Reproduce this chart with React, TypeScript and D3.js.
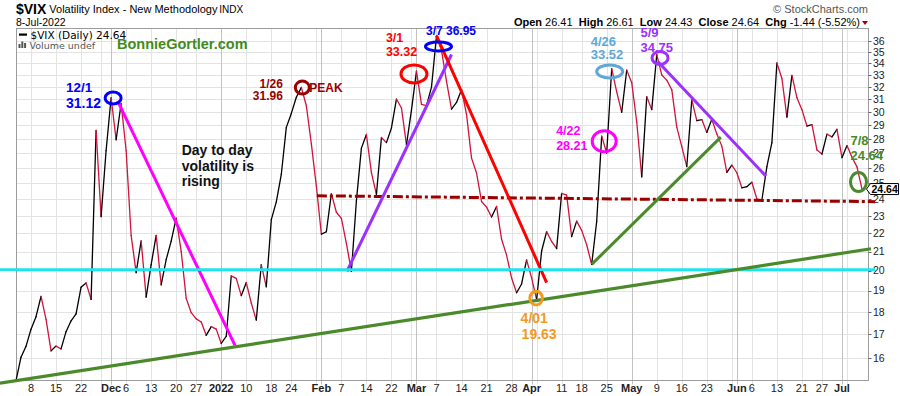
import React, { useRef, useEffect } from 'react';
import * as d3 from 'd3';

const WIDTH = 900;
const HEIGHT = 396;
const SANS = 'Liberation Sans, Arial, Helvetica, sans-serif';
const VERDANA = 'DejaVu Sans, Verdana, sans-serif';

// $VIX daily closes, [day of month, close]
const nov2021 = [[3, 15.10], [4, 16.03], [5, 16.48], [8, 17.22], [9, 17.78], [10, 18.73], [11, 17.66], [12, 16.29], [15, 16.49], [16, 16.37], [17, 17.11], [18, 17.59], [19, 17.91], [22, 19.17], [23, 19.38], [24, 18.58], [26, 28.62], [29, 22.96], [30, 27.19]];
const dec2021 = [[1, 31.12], [2, 27.95], [3, 30.67], [6, 27.18], [7, 21.89], [8, 19.90], [9, 21.58], [10, 18.69], [13, 20.31], [14, 21.89], [15, 19.29], [16, 20.57], [17, 21.57], [20, 22.87], [21, 21.01], [22, 18.63], [23, 17.96], [27, 17.68], [28, 17.54], [29, 16.95], [30, 17.33], [31, 17.22]];
const jan2022 = [[3, 16.60], [4, 16.91], [5, 19.73], [6, 19.61], [7, 18.76], [10, 19.40], [11, 18.41], [12, 17.62], [13, 20.31], [14, 19.19], [18, 22.79], [19, 23.85], [20, 25.59], [21, 28.85], [24, 29.90], [25, 31.16], [26, 31.96], [27, 30.49], [28, 27.66], [31, 24.83]];
const feb2022 = [[1, 21.96], [2, 22.09], [3, 24.35], [4, 23.22], [7, 22.86], [8, 21.44], [9, 19.96], [10, 23.91], [11, 27.36], [14, 28.33], [15, 25.70], [16, 24.29], [17, 28.11], [18, 27.75], [22, 28.81], [23, 31.02], [24, 30.32], [25, 27.59], [28, 30.15]];
const mar2022 = [[1, 33.32], [2, 30.6], [3, 30.5], [4, 31.98], [7, 36.45], [8, 35.13], [9, 32.45], [10, 30.23], [11, 30.75], [14, 31.77], [15, 29.83], [16, 26.67], [17, 25.67], [18, 23.87], [21, 23.53], [22, 22.94], [23, 23.57], [24, 21.67], [25, 20.81], [28, 19.63], [29, 18.90], [30, 19.33], [31, 20.56]];
const apr2022 = [[1, 19.63], [4, 18.57], [5, 21.03], [6, 22.10], [7, 21.55], [8, 21.16], [11, 24.37], [12, 24.26], [13, 21.82], [14, 22.70], [18, 22.17], [19, 21.37], [20, 20.32], [21, 22.68], [22, 28.21], [25, 27.02], [26, 33.52], [27, 31.60], [28, 29.99], [29, 33.40]];
const may2022 = [[2, 32.34], [3, 29.25], [4, 25.42], [5, 31.20], [6, 30.19], [9, 34.75], [10, 32.99], [11, 32.56], [12, 31.77], [13, 28.87], [16, 27.47], [17, 26.10], [18, 30.96], [19, 29.35], [20, 29.43], [23, 28.48], [24, 29.45], [25, 28.37], [26, 27.50], [27, 25.72], [31, 26.19]];
const jun2022 = [[1, 25.69], [2, 24.72], [3, 24.79], [6, 25.07], [7, 24.02], [8, 23.96], [9, 26.09], [10, 27.75], [13, 34.02], [14, 32.69], [15, 29.62], [16, 32.95], [17, 31.13], [21, 30.19], [22, 28.95], [23, 29.05], [24, 27.23], [27, 26.95], [28, 28.36], [29, 28.16], [30, 28.71]];
const jul2022 = [[1, 26.70], [5, 27.54], [6, 26.73], [7, 26.08], [8, 24.64]];

const months: [string, number[][]][] = [
  ['2021-11', nov2021], ['2021-12', dec2021], ['2022-01', jan2022], ['2022-02', feb2022],
  ['2022-03', mar2022], ['2022-04', apr2022], ['2022-05', may2022], ['2022-06', jun2022], ['2022-07', jul2022],
];

const series = months.flatMap(([ym, rows]) =>
  rows.map(([d, c]) => ({ date: `${ym}-${String(d).padStart(2, '0')}`, close: c })));

const yTicks = [16, 17, 18, 19, 20, 21, 22, 23, 24, 25, 26, 27, 28, 29, 30, 31, 32, 33, 34, 35, 36];

// weekly + month gridlines; empty label = gridline only
const xTicks = [
  ['2021-11-08', '8'], ['2021-11-15', '15'], ['2021-11-22', '22'], ['2021-11-29', ''], ['2021-12-01', 'Dec', 'm'],
  ['2021-12-06', '6'], ['2021-12-13', '13'], ['2021-12-20', '20'], ['2021-12-27', '27'], ['2022-01-03', '2022', 'm'],
  ['2022-01-10', '10'], ['2022-01-18', '18'], ['2022-01-24', '24'], ['2022-01-31', ''], ['2022-02-01', 'Feb', 'm'],
  ['2022-02-07', '7'], ['2022-02-14', '14'], ['2022-02-22', '22'], ['2022-02-28', ''], ['2022-03-01', 'Mar', 'm'],
  ['2022-03-07', '7'], ['2022-03-14', '14'], ['2022-03-21', '21'], ['2022-03-28', '28'], ['2022-04-01', 'Apr', 'm'],
  ['2022-04-04', ''], ['2022-04-11', '11'], ['2022-04-18', '18'], ['2022-04-25', '25'], ['2022-05-02', 'May', 'm'],
  ['2022-05-09', '9'], ['2022-05-16', '16'], ['2022-05-23', '23'], ['2022-05-31', ''], ['2022-06-01', 'Jun', 'm'],
  ['2022-06-06', '6'], ['2022-06-13', '13'], ['2022-06-21', '21'], ['2022-06-27', '27'], ['2022-07-01', 'Jul', 'm'],
  ['2022-07-05', ''],
];

// annotation anchors: [date, trading-day offset, value]
type Anchor = [string, number, number];

const trendLines: { from: Anchor; to: Anchor; color: string; width: number; dash?: string }[] = [
  { from: ['2022-01-31', 0.1, 24.22], to: ['2022-07-08', 2.6, 23.86], color: '#990000', width: 3, dash: '10,3,3,3' },
  { from: ['2021-12-02', 0.3, 30.88], to: ['2022-01-05', 0.75, 16.52], color: '#ff00ff', width: 3 },
  { from: ['2022-02-08', 0.1, 19.96], to: ['2022-03-10', 0, 34.76], color: '#9b30ff', width: 3 },
  { from: ['2022-03-07', 0, 36.49], to: ['2022-04-06', 0, 19.4], color: '#ff0000', width: 3 },
  { from: ['2022-04-20', 0, 20.32], to: ['2022-05-26', -0.2, 28.14], color: '#4a8a2a', width: 3 },
  { from: ['2022-05-09', 0.2, 34.14], to: ['2022-06-09', -0.2, 25.47], color: '#9b30ff', width: 3 },
  { from: ['2021-11-03', -3.2, 20.05], to: ['2022-07-08', 2.6, 20.05], color: '#1fe3ef', width: 2.8 },
  { from: ['2021-11-03', -3.2, 15.0], to: ['2022-07-08', 1.8, 21.15], color: '#4a8a2a', width: 3.2 },
];

const circles: { at: Anchor; rx: number; ry: number; color: string }[] = [
  { at: ['2021-12-01', 0.4, 31.1], rx: 8, ry: 6, color: '#0000ff' },
  { at: ['2022-01-26', 0.2, 31.94], rx: 7, ry: 6.5, color: '#990000' },
  { at: ['2022-03-01', -0.5, 33.08], rx: 13, ry: 9, color: '#ff0000' },
  { at: ['2022-03-07', 0.4, 35.49], rx: 13, ry: 4.5, color: '#0000ff' },
  { at: ['2022-04-22', 0.5, 27.84], rx: 12, ry: 10.5, color: '#ff00ff' },
  { at: ['2022-04-26', -0.4, 33.28], rx: 13, ry: 6.5, color: '#5fa8d6' },
  { at: ['2022-05-09', 0.65, 34.46], rx: 8, ry: 6.5, color: '#9b30ff' },
  { at: ['2022-04-04', -0.1, 18.64], rx: 6.3, ry: 6.8, color: '#f39a1e' },
  { at: ['2022-07-08', -0.7, 25.09], rx: 8, ry: 9.5, color: '#4a8a2a' },
];

const notes: { at: Anchor; lines: string[]; color: string; size: number; anchor?: string; lead?: number }[] = [
  { at: ['2021-11-17', 0, 31.57], lines: ['12/1'], color: '#0000ff', size: 13.5 },
  { at: ['2021-11-17', 0, 30.3], lines: ['31.12'], color: '#0000ff', size: 14 },
  { at: ['2021-12-21', 0.1, 26.86], lines: ['Day to day', 'volatility is', 'rising'], color: '#111', size: 14, lead: 15.5 },
  { at: ['2022-01-20', 0.3, 31.9], lines: ['1/26'], color: '#990000', size: 12, anchor: 'end' },
  { at: ['2022-01-20', 0.3, 30.93], lines: ['31.96'], color: '#990000', size: 12, anchor: 'end' },
  { at: ['2022-01-28', -0.4, 31.6], lines: ['PEAK'], color: '#990000', size: 12 },
  { at: ['2022-02-18', -0.1, 35.88], lines: ['3/1'], color: '#ff0000', size: 12.5 },
  { at: ['2022-02-18', -0.1, 34.6], lines: ['33.32'], color: '#ff0000', size: 12.5 },
  { at: ['2022-03-03', -0.1, 36.55], lines: ['3/7 36.95'], color: '#0000ff', size: 12 },
  { at: ['2022-04-08', -0.1, 28.3], lines: ['4/22'], color: '#ff00ff', size: 12.5 },
  { at: ['2022-04-08', -0.1, 27.23], lines: ['28.21'], color: '#ff00ff', size: 12.5 },
  { at: ['2022-04-20', -0.2, 35.49], lines: ['4/26'], color: '#5fa8d6', size: 13 },
  { at: ['2022-04-20', -0.2, 34.35], lines: ['33.52'], color: '#5fa8d6', size: 13 },
  { at: ['2022-05-04', -0.25, 36.34], lines: ['5/9'], color: '#9b30ff', size: 13 },
  { at: ['2022-05-04', -0.25, 35.0], lines: ['34.75'], color: '#9b30ff', size: 13 },
  { at: ['2022-03-30', -0.2, 17.5], lines: ['4/01'], color: '#f39a1e', size: 14 },
  { at: ['2022-03-30', 0, 16.81], lines: ['19.63'], color: '#f39a1e', size: 14 },
  { at: ['2022-07-05', 0.7, 27.58], lines: ['7/8'], color: '#4a8a2a', size: 13 },
  { at: ['2022-07-05', 0.7, 26.51], lines: ['24.64'], color: '#4a8a2a', size: 13 },
];

const ohlc = [['Open', '26.41'], ['High', '26.61'], ['Low', '24.43'], ['Close', '24.64'], ['Chg', '-1.44 (-5.52%)']];

export default function App() {
  const svgRef = useRef<SVGSVGElement>(null);

  useEffect(() => {
    if (!svgRef.current) return;
    const svg = d3.select(svgRef.current);
    svg.selectAll('*').remove();

    const indexOf = new Map(series.map((d, i) => [d.date, i]));
    const at = (date: string, off: number) => (indexOf.get(date) ?? 0) + off;

    const x = d3.scaleLinear().domain([0, series.length - 1]).range([16, 862]);
    const y = d3.scaleLog().domain([15.12, 37.2]).range([380, 28]);
    const left = 16.5, right = 868.5, top = 28.5, bottom = 380.5;
    const px = (a: Anchor) => x(at(a[0], a[1]));
    const py = (a: Anchor) => y(a[2]);
    const crisp = (v: number) => Math.round(v) + 0.5;

    svg.append('rect').attr('width', WIDTH).attr('height', HEIGHT).attr('fill', '#fff');

    // grid
    svg.append('g').selectAll('line').data(yTicks).join('line')
      .attr('x1', left).attr('x2', right)
      .attr('y1', d => crisp(y(d))).attr('y2', d => crisp(y(d)))
      .attr('stroke', '#e3e3e3');
    svg.append('g').selectAll('line').data(xTicks).join('line')
      .attr('x1', d => crisp(x(at(d[0], 0)))).attr('x2', d => crisp(x(at(d[0], 0))))
      .attr('y1', top).attr('y2', bottom + 4)
      .attr('stroke', d => (d[2] ? '#c2c2c2' : '#e3e3e3'));

    svg.append('rect')
      .attr('x', left).attr('y', top).attr('width', right - left).attr('height', bottom - top)
      .attr('fill', 'none').attr('stroke', '#9c9c9c');

    // right price axis
    const yAxis = svg.append('g');
    yAxis.selectAll('line').data(yTicks).join('line')
      .attr('x1', right).attr('x2', right + 3)
      .attr('y1', d => crisp(y(d))).attr('y2', d => crisp(y(d)))
      .attr('stroke', '#666');
    yAxis.selectAll('text').data(yTicks).join('text')
      .attr('x', right + 4.5).attr('y', d => y(d) + 3.8)
      .attr('font-family', SANS).attr('font-size', 10.5).attr('fill', '#222')
      .text(d => d);

    // date axis
    svg.append('g').selectAll('text').data(xTicks.filter(d => d[1])).join('text')
      .attr('x', d => x(at(d[0], 0))).attr('y', 391.5)
      .attr('text-anchor', 'middle')
      .attr('font-family', SANS).attr('font-size', 11)
      .attr('font-weight', d => (d[2] ? 'bold' : 'normal'))
      .attr('fill', '#222')
      .text(d => d[1]);

    // price line, coloured by direction
    const segs = series.slice(1).map((d, i) => ({ a: series[i], b: d, i }));
    svg.append('g').selectAll('line').data(segs).join('line')
      .attr('x1', d => x(d.i)).attr('y1', d => y(d.a.close))
      .attr('x2', d => x(d.i + 1)).attr('y2', d => y(d.b.close))
      .attr('stroke', d => (d.b.close >= d.a.close ? '#000' : '#d0143c'))
      .attr('stroke-width', 1.3).attr('stroke-linecap', 'round');

    // trend lines
    svg.append('g').selectAll('line').data(trendLines).join('line')
      .attr('x1', d => px(d.from)).attr('y1', d => py(d.from))
      .attr('x2', d => px(d.to)).attr('y2', d => py(d.to))
      .attr('stroke', d => d.color).attr('stroke-width', d => d.width)
      .attr('stroke-dasharray', d => d.dash ?? null);

    svg.append('g').selectAll('ellipse').data(circles).join('ellipse')
      .attr('cx', d => px(d.at)).attr('cy', d => py(d.at))
      .attr('rx', d => d.rx).attr('ry', d => d.ry)
      .attr('fill', 'none').attr('stroke', d => d.color).attr('stroke-width', 3);

    const noteSel = svg.append('g').selectAll('text').data(notes).join('text')
      .attr('x', d => px(d.at)).attr('y', d => py(d.at))
      .attr('text-anchor', d => d.anchor ?? 'start')
      .attr('font-family', SANS).attr('font-weight', 'bold')
      .attr('font-size', d => d.size).attr('fill', d => d.color);
    noteSel.each(function (d) {
      const t = d3.select(this);
      d.lines.forEach((ln, k) => {
        t.append('tspan').attr('x', px(d.at)).attr('dy', k === 0 ? 0 : d.lead ?? 14).text(ln);
      });
    });

    // last price tag
    const last = series[series.length - 1];
    const ty = y(last.close);
    const tx = x(series.length - 1) + 4.5;
    svg.append('path')
      .attr('d', `M${tx},${ty} L${tx + 4},${ty - 5.5} L${WIDTH - 1.5},${ty - 5.5} L${WIDTH - 1.5},${ty + 5.5} L${tx + 4},${ty + 5.5} Z`)
      .attr('fill', '#fff').attr('stroke', '#000').attr('stroke-width', 1);
    svg.append('text').attr('x', tx + 5).attr('y', ty + 4)
      .attr('font-family', SANS).attr('font-weight', 'bold').attr('font-size', 10.5)
      .text(last.close.toFixed(2));

    // legend
    svg.append('rect').attr('x', 19).attr('y', 33.5).attr('width', 8).attr('height', 2.2).attr('fill', '#000');
    svg.append('text').attr('x', 30.5).attr('y', 38.5)
      .attr('font-family', VERDANA).attr('font-size', 10.5).attr('fill', '#000')
      .text(`$VIX (Daily) ${last.close.toFixed(2)}`);
    [[18.5, 4], [21.3, 6.5], [24.1, 5]].forEach(([bx, bh]) => {
      svg.append('rect').attr('x', bx).attr('y', 48 - bh).attr('width', 2).attr('height', bh).attr('fill', '#555');
    });
    svg.append('text').attr('x', 29.5).attr('y', 48.5)
      .attr('font-family', VERDANA).attr('font-size', 9.5).attr('fill', '#555')
      .text('Volume undef');
    svg.append('text').attr('x', 117).attr('y', 49)
      .attr('font-family', SANS).attr('font-weight', 'bold').attr('font-size', 14.5).attr('fill', '#3f8c1c')
      .text('BonnieGortler.com');

    // header
    svg.append('text').attr('x', 16).attr('y', 13.5)
      .attr('font-family', SANS).attr('font-weight', 'bold').attr('font-size', 14).text('$VIX');
    svg.append('text').attr('x', 49.3).attr('y', 13)
      .attr('font-family', SANS).attr('font-size', 11).text('Volatility Index - New Methodology');
    svg.append('text').attr('x', 219.3).attr('y', 13)
      .attr('font-family', SANS).attr('font-size', 10).text('INDX');
    svg.append('text').attr('x', 16).attr('y', 25.5)
      .attr('font-family', SANS).attr('font-size', 10.5).text('8-Jul-2022');
    svg.append('text').attr('x', 868).attr('y', 12.5).attr('text-anchor', 'end')
      .attr('font-family', SANS).attr('font-size', 11).attr('fill', '#555').text('\u00a9 StockCharts.com');

    const hdr = svg.append('text').attr('x', 860).attr('y', 26).attr('text-anchor', 'end')
      .attr('font-family', SANS).attr('font-size', 11).attr('fill', '#000')
      .attr('xml:space', 'preserve');
    ohlc.forEach(([k, v], i) => {
      hdr.append('tspan').attr('font-weight', 'bold').text((i ? '  ' : '') + k);
      hdr.append('tspan').text(' ' + v);
    });
    svg.append('path').attr('d', 'M862,21 L868,21 L865,25 Z').attr('fill', '#a00000');
  }, []);

  return (
    <svg
      ref={svgRef}
      width={WIDTH}
      height={HEIGHT}
      style={{ position: 'absolute', left: 0, top: 0 }}
    />
  );
}
